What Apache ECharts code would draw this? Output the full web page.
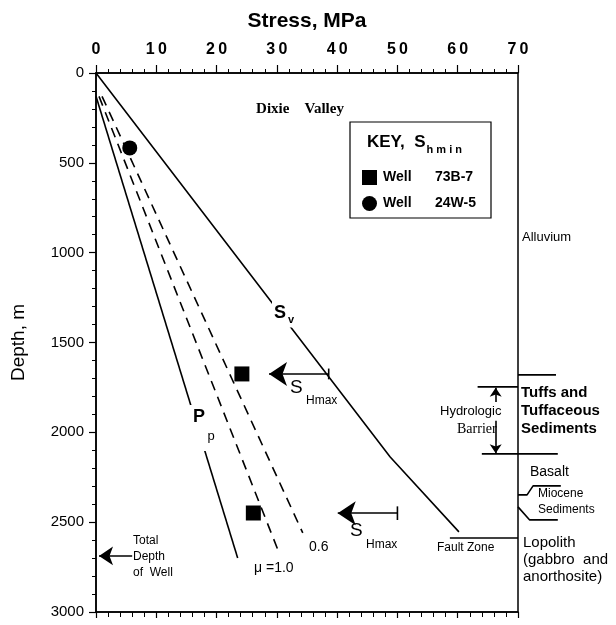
<!DOCTYPE html>
<html><head><meta charset="utf-8">
<script src="https://cdn.jsdelivr.net/npm/echarts@6/dist/echarts.min.js"></script>
<style>html,body{margin:0;padding:0;background:#fff}#c{width:616px;height:625px}</style>
</head><body><div id="c"></div>
<script>
// ---- data (stress MPa, depth m) ----
const xTicks = [0, 10, 20, 30, 40, 50, 60, 70];
const yTicks = [0, 500, 1000, 1500, 2000, 2500, 3000];
const svLine = [[0, 0], [48.8, 2137], [60.2, 2554]];
const ppLine = [[0, 130], [23.5, 2699]];
const mu06Line = [[1.0, 130], [34.3, 2560]];
const mu10Line = [[0.5, 130], [30.5, 2682]];
const well73B7 = [[24.2, 1675], [26.1, 2449]];
const well24W5 = [[5.6, 417]];
const shmaxTop = [[38.6, 1675], [28.7, 1675]];
const shmaxBottom = [[50, 2450], [40.1, 2450]];
const totalDepthArrow = [[6, 2688], [0.5, 2688]];
const hydroUp = [[66.3, 1831], [66.3, 1752]];
const hydroDown = [[66.3, 1935], [66.3, 2116]];
// geology boundaries, inside the plot (stress <= 70)
const tuffTop = [[63.3, 1747], [70, 1747]];
const basaltTopIn = [[64, 2120], [70, 2120]];
const faultZone = [[58.7, 2588], [70, 2588]];
// geology boundaries, right of the plot (stress >= 70)
const alluviumBase = [[70, 1680], [76.3, 1680]];
const basaltTopOut = [[70, 2120], [76.6, 2120]];
const mioceneTop = [[70, 2348], [71.5, 2348], [72.5, 2298], [77.1, 2298]];
const mioceneBase = [[70, 2415], [71.9, 2487], [76.6, 2487]];

const FONT = 'Liberation Sans, Arial, Helvetica, sans-serif';
const black = '#000';

const chart = echarts.init(document.getElementById('c'));

function plainLine(name, data, dashed, outside) {
  return {
    name, type: 'line', data, symbol: 'none', silent: true, clip: false,
    xAxisIndex: outside ? 2 : 0, yAxisIndex: outside ? 1 : 0,
    lineStyle: { color: black, width: 1.6, type: dashed ? [10, 7] : 'solid' },
    z: 3
  };
}
function arrowLine(name, data, size) {
  return {
    name, type: 'line', data: [], silent: true,
    markLine: {
      silent: true, symbol: ['none', 'arrow'], symbolSize: size,
      label: { show: false }, animation: false,
      lineStyle: { color: black, width: 1.6, type: 'solid' },
      data: [[{ coord: data[0] }, { coord: data[1] }]]
    }
  };
}
function barEnd(name, pt, halfDepth) {
  return plainLine(name, [[pt[0], pt[1] - halfDepth], [pt[0], pt[1] + halfDepth]]);
}

const option = {
  animation: false,
  backgroundColor: '#fff',
  grid: [
    { left: 96, right: 98, top: 73, bottom: 13, show: true, borderColor: black, borderWidth: 1.5 },
    { left: 518, right: 0, top: 73, bottom: 13, show: false }
  ],
  xAxis: [{
    type: 'value', position: 'top', min: 0, max: 70, interval: 10, gridIndex: 0,
    name: 'Stress, MPa', nameLocation: 'middle', nameGap: 41,
    nameTextStyle: { fontFamily: FONT, fontSize: 21, fontWeight: 'bold', color: black },
    axisLine: { show: true, lineStyle: { color: black, width: 1.5 } },
    axisTick: { show: true, inside: false, length: 8, lineStyle: { color: black, width: 1.2 } },
    minorTick: { show: true, splitNumber: 5, length: 4, lineStyle: { color: black, width: 1 } },
    splitLine: { show: false },
    axisLabel: { margin: 15, fontFamily: FONT, fontSize: 16, fontWeight: 'bold', color: black,
      formatter: v => xTicks.includes(v) ? String(v).split('').join('\u2009') : '' }
  }, {
    type: 'value', position: 'bottom', min: 0, max: 70, interval: 10, gridIndex: 0,
    axisLine: { show: true, lineStyle: { color: black, width: 1.5 } },
    axisTick: { show: true, inside: false, length: 6, lineStyle: { color: black, width: 1.2 } },
    minorTick: { show: true, splitNumber: 5, length: 5, lineStyle: { color: black, width: 1 } },
    splitLine: { show: false }, axisLabel: { show: false }
  }, {
    type: 'value', gridIndex: 1, min: 70, max: 70 + 98 / 6.03,
    show: false
  }],
  yAxis: [{
    type: 'value', inverse: true, min: 0, max: 3000, interval: 500, gridIndex: 0,
    name: 'Depth, m', nameLocation: 'middle', nameGap: 68, nameRotate: 90,
    nameTextStyle: { fontFamily: FONT, fontSize: 19, color: black },
    axisLine: { show: true, lineStyle: { color: black, width: 1.5 } },
    axisTick: { show: true, inside: false, length: 7, lineStyle: { color: black, width: 1.2 } },
    minorTick: { show: true, splitNumber: 5, length: 4, lineStyle: { color: black, width: 1 } },
    splitLine: { show: false },
    axisLabel: { margin: 12, fontFamily: FONT, fontSize: 15, color: black,
      formatter: v => yTicks.includes(v) ? String(v) : '' }
  }, {
    type: 'value', inverse: true, min: 0, max: 3000, gridIndex: 1, show: false
  }],
  legend: {
    orient: 'vertical', left: 357, top: 165, itemWidth: 15, itemHeight: 15, itemGap: 11,
    selectedMode: false,
    data: [{ name: 'Well 73B-7', icon: 'rect' }, { name: 'Well 24W-5', icon: 'circle' }],
    formatter: n => '{a|Well}{b|' + n.split(' ')[1] + '}',
    textStyle: { fontFamily: FONT, fontWeight: 'bold', fontSize: 14, color: black,
      rich: { a: { width: 52, fontFamily: FONT, fontWeight: 'bold', fontSize: 14, padding: [0, 0, 0, 1] },
              b: { fontFamily: FONT, fontWeight: 'bold', fontSize: 14 } } }
  },
  series: [
    plainLine('Sv', svLine),
    plainLine('Pp', ppLine),
    plainLine('mu06', mu06Line, true),
    plainLine('mu10', mu10Line, true),
    { name: 'Well 73B-7', type: 'scatter', data: well73B7, symbol: 'rect', symbolSize: 15,
      itemStyle: { color: black, opacity: 1 }, z: 5 },
    { name: 'Well 24W-5', type: 'scatter', data: well24W5, symbol: 'circle', symbolSize: 15,
      itemStyle: { color: black, opacity: 1 }, z: 5 },
    arrowLine('shTop', shmaxTop, 18),
    barEnd('shTopBar', shmaxTop[0], 30),
    arrowLine('shBot', shmaxBottom, 18),
    barEnd('shBotBar', shmaxBottom[0], 38),
    arrowLine('td', totalDepthArrow, 14),
    arrowLine('hUp', hydroUp, 9),
    arrowLine('hDown', hydroDown, 9),
    plainLine('tuff', tuffTop),
    plainLine('basaltIn', basaltTopIn),
    plainLine('fault', faultZone),
    plainLine('alluv', alluviumBase, false, true),
    plainLine('basaltOut', basaltTopOut, false, true),
    plainLine('mioT', mioceneTop, false, true),
    plainLine('mioB', mioceneBase, false, true)
  ],
  graphic: [
    { type: 'text', z: 100, x: 300, y: 109, style: { text: 'Dixie    Valley', font: 'bold 15px "Liberation Serif", "Times New Roman", serif', fill: black, align: 'center', verticalAlign: 'middle' } },
    { type: 'rect', z: 100, shape: { x: 350, y: 122, width: 141, height: 96 }, style: { fill: 'none', stroke: black, lineWidth: 1.2 } },
    { type: 'text', z: 100, x: 367, y: 142, style: { text: '{k|KEY,  S}{h|h m i n}', fill: black, verticalAlign: 'middle',
      rich: { k: { font: 'bold 17px ' + FONT, fill: black }, h: { font: 'bold 11px ' + FONT, fill: black, padding: [16, 0, 0, 1] } } } },
    // Sv label
    { type: 'text', z: 100, x: 272, y: 312, style: { text: '{s|S}{v|v}', verticalAlign: 'middle', backgroundColor: '#fff', padding: [4, 2, 2, 2],
      rich: { s: { font: 'bold 18px ' + FONT, fill: black }, v: { font: 'bold 11px ' + FONT, fill: black, padding: [14, 0, 0, 2] } } } },
    // Pp label
    { type: 'text', z: 100, x: 190, y: 428, style: { text: '{p|P}\n{q|    p}', backgroundColor: '#fff', padding: [2, 3, 6, 3], verticalAlign: 'middle',
      rich: { p: { font: 'bold 18px ' + FONT, fill: black, lineHeight: 20 }, q: { font: '13px ' + FONT, fill: black, lineHeight: 18 } } } },
    // SHmax labels
    { type: 'text', z: 100, x: 290, y: 388, style: { text: 'S', font: '19px ' + FONT, fill: black, verticalAlign: 'middle' } },
    { type: 'text', z: 100, x: 306, y: 401, style: { text: 'Hmax', font: '12px ' + FONT, fill: black, verticalAlign: 'middle' } },
    { type: 'text', z: 100, x: 350, y: 531, style: { text: 'S', font: '19px ' + FONT, fill: black, verticalAlign: 'middle' } },
    { type: 'text', z: 100, x: 366, y: 545, style: { text: 'Hmax', font: '12px ' + FONT, fill: black, verticalAlign: 'middle' } },
    // mu labels
    { type: 'text', z: 100, x: 309, y: 547, style: { text: '0.6', font: '14px ' + FONT, fill: black, verticalAlign: 'middle' } },
    { type: 'text', z: 100, x: 254, y: 568, style: { text: 'μ =1.0', font: '14px ' + FONT, fill: black, verticalAlign: 'middle' } },
    // Total depth
    { type: 'text', z: 100, x: 133, y: 557, style: { text: 'Total\nDepth\nof  Well', font: '12px ' + FONT, lineHeight: 16, fill: black, verticalAlign: 'middle' } },
    // right side geology
    { type: 'text', z: 100, x: 522, y: 237, style: { text: 'Alluvium', font: '13px ' + FONT, fill: black, verticalAlign: 'middle' } },
    { type: 'text', z: 100, x: 521, y: 411, style: { text: 'Tuffs and\nTuffaceous\nSediments', font: 'bold 15px ' + FONT, lineHeight: 18, fill: black, verticalAlign: 'middle' } },
    { type: 'text', z: 100, x: 440, y: 411, style: { text: 'Hydrologic', font: '13px ' + FONT, fill: black, verticalAlign: 'middle' } },
    { type: 'text', z: 100, x: 457, y: 429, style: { text: 'Barrier', font: '14px "Liberation Serif", "Times New Roman", serif', fill: black, verticalAlign: 'middle' } },
    { type: 'text', z: 100, x: 530, y: 472, style: { text: 'Basalt', font: '14px ' + FONT, fill: black, verticalAlign: 'middle' } },
    { type: 'text', z: 100, x: 538, y: 494, style: { text: 'Miocene', font: '12px ' + FONT, fill: black, verticalAlign: 'middle' } },
    { type: 'text', z: 100, x: 538, y: 510, style: { text: 'Sediments', font: '12px ' + FONT, fill: black, verticalAlign: 'middle' } },
    { type: 'text', z: 100, x: 437, y: 548, style: { text: 'Fault Zone', font: '12px ' + FONT, fill: black, verticalAlign: 'middle' } },
    { type: 'text', z: 100, x: 523, y: 560, style: { text: 'Lopolith\n(gabbro  and\nanorthosite)', font: '15px ' + FONT, lineHeight: 17, fill: black, verticalAlign: 'middle' } }
  ]
};
chart.setOption(option);
</script></body></html>
